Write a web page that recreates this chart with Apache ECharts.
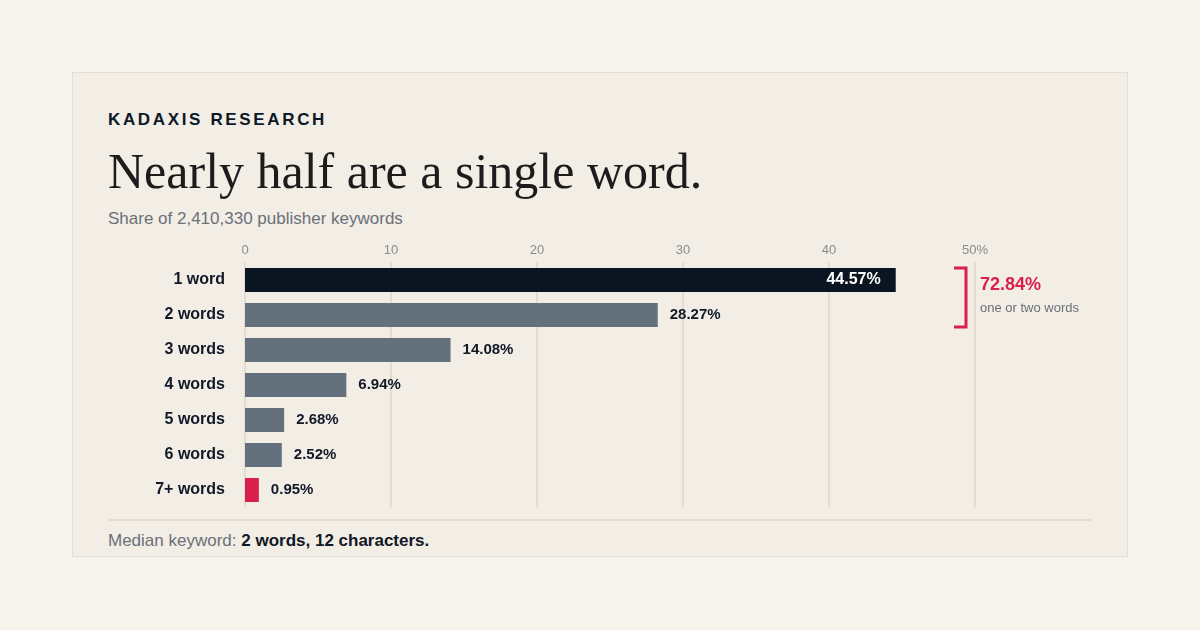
<!DOCTYPE html>
<html>
<head>
<meta charset="utf-8">
<script src="https://cdn.jsdelivr.net/npm/echarts@6/dist/echarts.min.js"></script>
<style>
    html, body { margin: 0; padding: 0; background: #f7f4ee; }
    body { width: 1200px; height: 630px; position: relative; overflow: hidden; font-family: "Liberation Sans", Arial, sans-serif; }
    .card { position: absolute; left: 72px; top: 72px; width: 1054px; height: 483px; background: #f2ede5; border: 1.5px solid #e3ded3; }
    .txt { position: absolute; left: 108px; line-height: 1; white-space: nowrap; }
    .kicker { top: 111px; font-size: 17px; font-weight: bold; letter-spacing: 2.65px; color: #0d1826; }
    .title { top: 146px; font-family: "Liberation Serif", "Times New Roman", serif; font-size: 50px; color: #1c1c1c; }
    .sub { top: 210px; font-size: 17px; color: #6b7079; }
    .rule { position: absolute; left: 108px; top: 519px; width: 984px; height: 2px; background: #e3ded3; }
    .foot { top: 532px; font-size: 17px; color: #6b7079; }
    .foot b { color: #111827; }
    #main { position: absolute; left: 0; top: 0; width: 1200px; height: 630px; }
</style>
</head>
<body>
<div class="card"></div>
<div class="txt kicker">KADAXIS RESEARCH</div>
<div class="txt title">Nearly half are a single word.</div>
<div class="txt sub">Share of 2,410,330 publisher keywords</div>
<div class="rule"></div>
<div class="txt foot">Median keyword: <b>2 words, 12 characters.</b></div>
<div id="main"></div>
<script>
    // data
    var categories = ['1 word', '2 words', '3 words', '4 words', '5 words', '6 words', '7+ words'];
    var shares = [44.57, 28.27, 14.08, 6.94, 2.68, 2.52, 0.95];
    var tickValues = [0, 10, 20, 30, 40, 50];

    var DARK = '#0b1522', GREY = '#64707c', RED = '#da1f4c';

    var myChart = echarts.init(document.getElementById('main'));

    var barData = shares.map(function (v, i) {
        var color = i === 0 ? DARK : (i === shares.length - 1 ? RED : GREY);
        var item = { value: v, itemStyle: { color: color } };
        if (i === 0) {
            item.label = {
                position: 'insideRight',
                distance: 15,
                color: '#ffffff',
                fontSize: 16
            };
        }
        return item;
    });

    myChart.setOption({
        animation: false,
        grid: { left: 245, top: 262.5, width: 730, height: 245 },
        xAxis: {
            type: 'value',
            position: 'top',
            min: 0,
            max: 50,
            interval: 10,
            axisLine: { show: false },
            axisTick: { show: false },
            axisLabel: {
                margin: 5.5,
                color: '#8c8c8c',
                fontSize: 13,
                fontFamily: 'Liberation Sans',
                formatter: function (v) {
                    return v === tickValues[tickValues.length - 1] ? v + '%' : String(v);
                }
            },
            splitLine: { lineStyle: { color: '#e3dccf', width: 2 } }
        },
        yAxis: {
            type: 'category',
            inverse: true,
            data: categories,
            axisLine: { show: false },
            axisTick: { show: false },
            axisLabel: {
                margin: 20,
                color: '#111827',
                fontSize: 16,
                fontWeight: 'bold',
                fontFamily: 'Liberation Sans'
            }
        },
        series: [{
            type: 'bar',
            data: barData,
            barWidth: 24,
            label: {
                show: true,
                position: 'right',
                distance: 12,
                color: '#111827',
                fontSize: 15,
                fontWeight: 'bold',
                fontFamily: 'Liberation Sans',
                formatter: function (p) { return p.value.toFixed(2) + '%'; }
            }
        }]
    });

    // bracket annotation for the first two rows
    var row0 = myChart.convertToPixel({ seriesIndex: 0 }, [50, 0]);
    var row1 = myChart.convertToPixel({ seriesIndex: 0 }, [50, 1]);
    var bTop = row0[1] - 12;
    var bBottom = row1[1] + 12;
    var xEdge = row0[0];
    var combined = (shares[0] + shares[1]).toFixed(2) + '%';

    myChart.setOption({
        graphic: [
            {
                type: 'polyline',
                shape: { points: [[xEdge - 21, bTop], [xEdge - 9, bTop], [xEdge - 9, bBottom], [xEdge - 21, bBottom]] },
                style: { stroke: RED, lineWidth: 3, fill: 'none' }
            },
            {
                type: 'text',
                x: xEdge + 5,
                y: bTop + 17,
                style: {
                    text: combined,
                    fill: RED,
                    font: 'bold 18px "Liberation Sans"',
                    verticalAlign: 'middle'
                }
            },
            {
                type: 'text',
                x: xEdge + 5,
                y: bTop + 40,
                style: {
                    text: 'one or two words',
                    fill: '#6b7079',
                    font: '13px "Liberation Sans"',
                    verticalAlign: 'middle'
                }
            }
        ]
    });
</script>
</body>
</html>
